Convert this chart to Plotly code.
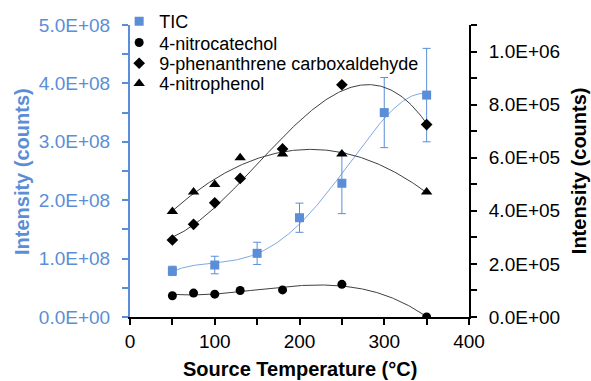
import numpy as np
import plotly.graph_objects as go

# ---- data ----
tic_x = [50, 100, 150, 200, 250, 300, 350]
tic_y = [0.79e8, 0.89e8, 1.09e8, 1.70e8, 2.29e8, 3.50e8, 3.80e8]
tic_err = [0.08e8, 0.15e8, 0.19e8, 0.25e8, 0.52e8, 0.60e8, 0.80e8]

nc_x = [50, 75, 100, 130, 180, 250, 350]
nc_y = [0.80e5, 0.90e5, 0.86e5, 1.00e5, 1.02e5, 1.23e5, 0.0]

pc_x = [50, 75, 100, 130, 180, 250, 350]
pc_y = [2.90e5, 3.49e5, 4.30e5, 5.22e5, 6.33e5, 8.75e5, 7.25e5]

np_x = [50, 75, 100, 130, 180, 250, 350]
np_y = [3.97e5, 4.71e5, 4.99e5, 6.00e5, 6.14e5, 6.14e5, 4.71e5]

x_ticks = [0, 50, 100, 150, 200, 250, 300, 350, 400]
x_ticktext = ["0", "", "100", "", "200", "", "300", "", "400"]
yl_ticks = [0, 0.5e8, 1e8, 1.5e8, 2e8, 2.5e8, 3e8, 3.5e8, 4e8, 4.5e8, 5e8]
yl_ticktext = ["0.0E+00", "", "1.0E+08", "", "2.0E+08", "", "3.0E+08", "", "4.0E+08", "", "5.0E+08"]
yr_ticks = [0, 1e5, 2e5, 3e5, 4e5, 5e5, 6e5, 7e5, 8e5, 9e5, 1e6, 1.1e6]
yr_ticktext = ["0.0E+00", "", "2.0E+05", "", "4.0E+05", "", "6.0E+05", "", "8.0E+05", "", "1.0E+06", ""]

BLUE = "#5B8ED6"
FONT = "Liberation Sans, Arial, sans-serif"


def trend(xs, ys, deg):
    c = np.polyfit(xs, ys, deg)
    gx = np.linspace(min(xs), max(xs), 200)
    return gx, np.polyval(c, gx)


fig = go.Figure()

# polynomial trendlines (behind markers)
gx, gy = trend(tic_x, tic_y, 4)
fig.add_trace(go.Scatter(x=gx, y=gy, mode="lines", line=dict(color="#7FA8E0", width=1),
                         showlegend=False, hoverinfo="skip", yaxis="y"))
for xs, ys, deg in [(nc_x, nc_y, 3), (pc_x, pc_y, 3), (np_x, np_y, 2)]:
    gx, gy = trend(xs, ys, deg)
    fig.add_trace(go.Scatter(x=gx, y=gy, mode="lines", line=dict(color="#404040", width=1),
                             showlegend=False, hoverinfo="skip", yaxis="y2"))

fig.add_trace(go.Scatter(x=tic_x, y=tic_y, mode="markers", name="TIC", legend="legend",
                         marker=dict(symbol="square", size=9, color=BLUE),
                         error_y=dict(type="data", array=tic_err, color=BLUE, thickness=1, width=4),
                         yaxis="y"))
fig.add_trace(go.Scatter(x=nc_x, y=nc_y, mode="markers", name="4-nitrocatechol", legend="legend2",
                         marker=dict(symbol="circle", size=9, color="black"), yaxis="y2"))
fig.add_trace(go.Scatter(x=pc_x, y=pc_y, mode="markers", name="9-phenanthrene carboxaldehyde",
                         legend="legend3",
                         marker=dict(symbol="diamond", size=9, color="black"), yaxis="y2"))
fig.add_trace(go.Scatter(x=np_x, y=np_y, mode="markers", name="4-nitrophenol", legend="legend4",
                         marker=dict(symbol="triangle-up", size=10, color="black"), yaxis="y2"))

LEG_X = -0.032
leg_common = dict(x=LEG_X, xanchor="left", yanchor="middle", bgcolor="rgba(0,0,0,0)",
                  font=dict(size=18, color="black"))

fig.update_layout(
    width=591, height=381,
    margin=dict(l=130, r=122, t=25, b=64, autoexpand=False),
    paper_bgcolor="white", plot_bgcolor="white",
    font=dict(family=FONT, size=19, color="black"),
    xaxis=dict(range=[0, 400], tickmode="array", tickvals=x_ticks, ticktext=x_ticktext,
               showline=True, linecolor="black", linewidth=2, ticks="outside", ticklen=6,
               tickwidth=1.5, tickcolor="black", showgrid=False, zeroline=False,
               tickfont=dict(size=19, color="black")),
    yaxis=dict(range=[0, 5e8], tickmode="array", tickvals=yl_ticks, ticktext=yl_ticktext,
               showline=True, linecolor=BLUE, linewidth=2, ticks="outside", ticklen=6,
               tickwidth=1.5, tickcolor=BLUE, showgrid=False, zeroline=False,
               tickfont=dict(size=19, color=BLUE), ticklabelstandoff=8),
    yaxis2=dict(range=[0, 1.1e6], overlaying="y", side="right", tickmode="array",
                tickvals=yr_ticks, ticktext=yr_ticktext,
                showline=True, linecolor="black", linewidth=2, ticks="outside", ticklen=6,
                tickwidth=1.5, tickcolor="black", showgrid=False, zeroline=False,
                tickfont=dict(size=19, color="black"), ticklabelstandoff=8),
    legend=dict(y=1.012, **leg_common),
    legend2=dict(y=0.939, **leg_common),
    legend3=dict(y=0.868, **leg_common),
    legend4=dict(y=0.799, **leg_common),
    showlegend=True,
)

fig.add_annotation(text="<b>Intensity (counts)</b>", xref="paper", yref="paper",
                   x=-0.3186, y=0.5, xanchor="center", yanchor="middle", textangle=-90,
                   showarrow=False, font=dict(size=20, color=BLUE))
fig.add_annotation(text="<b>Intensity (counts)</b>", xref="paper", yref="paper",
                   x=1.325, y=0.5, xanchor="center", yanchor="middle", textangle=-90,
                   showarrow=False, font=dict(size=20, color="black"))
fig.add_annotation(text="<b>Source Temperature (°C)</b>", xref="paper", yref="paper",
                   x=0.5, y=-0.178, xanchor="center", yanchor="middle", showarrow=False,
                   font=dict(size=20, color="black"))

fig.write_html("out.html")
